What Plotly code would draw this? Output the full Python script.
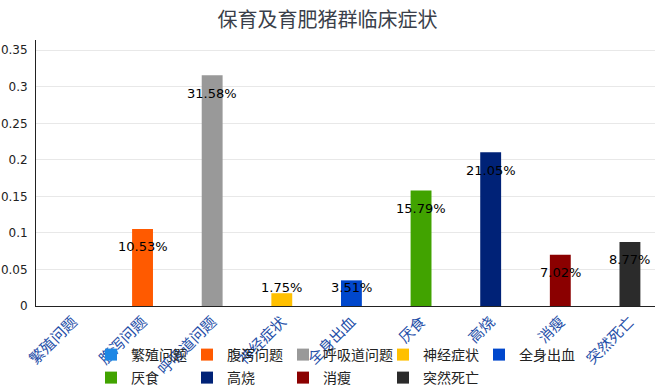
import plotly.graph_objects as go

categories = ["繁殖问题", "腹泻问题", "呼吸道问题", "神经症状", "全身出血", "厌食", "高烧", "消瘦", "突然死亡"]
values = [0, 0.1053, 0.3158, 0.0175, 0.0351, 0.1579, 0.2105, 0.0702, 0.0877]
labels = ["", "10.53%", "31.58%", "1.75%", "3.51%", "15.79%", "21.05%", "7.02%", "8.77%"]
colors = ["#1e88e5", "#ff5a00", "#999999", "#ffc000", "#0047cc", "#41a300", "#002277", "#8b0000", "#2b2b2b"]
y_ticks = [0, 0.05, 0.1, 0.15, 0.2, 0.25, 0.3, 0.35]
y_tick_text = ["0", "0.05", "0.1", "0.15", "0.2", "0.25", "0.3", "0.35"]

fig = go.Figure()
for i, (cat, val, col) in enumerate(zip(categories, values, colors)):
    fig.add_trace(go.Bar(x=[cat], y=[val], name=cat, marker_color=col, width=0.3,
                         marker_line_width=0, legend="legend" if i == 0 else f"legend{i + 1}"))

for cat, val, lab in zip(categories, values, labels):
    if not lab:
        continue
    fig.add_annotation(x=cat, y=max(val - 0.0245, 0.026), text=lab, showarrow=False,
                       font=dict(size=13, color="#000000", family="DejaVu Sans"),
                       yanchor="middle", xanchor="center")

# one legend box per entry: 5 columns per row, 96px apart
legends = {}
for i in range(len(categories)):
    row, col = divmod(i, 5)
    x_px = 91 + col * 96 + (4 if col >= 3 else 0)
    y_px = 355 + row * 23
    key = "legend" if i == 0 else f"legend{i + 1}"
    legends[key] = dict(orientation="h", xref="container", yref="container",
                        x=x_px / 655, y=1 - y_px / 387, xanchor="left", yanchor="middle",
                        font=dict(size=14, color="#222222"), itemclick=False,
                        bgcolor="rgba(0,0,0,0)", tracegroupgap=0)

fig.update_layout(
    width=655, height=387,
    margin=dict(l=36, r=0, t=40, b=81, autoexpand=False),
    paper_bgcolor="white", plot_bgcolor="white",
    barmode="overlay",
    title=dict(text="保育及育肥猪群临床症状", x=0.5, xanchor="center", yref="container",
               y=1 - 20 / 387, yanchor="middle",
               font=dict(size=20, color="#3a3f4a", family="Noto Sans CJK SC")),
    font=dict(family="Noto Sans CJK SC"),
    showlegend=True,
    xaxis=dict(type="category", range=[-0.53, 8.36], tickangle=-45, automargin=False,
               tickfont=dict(size=15, color="#1f4fa8"), showline=True, linecolor="#222222",
               linewidth=1, showgrid=False, ticks=""),
    yaxis=dict(range=[0, 0.364], tickvals=y_ticks, ticktext=y_tick_text,
               tickfont=dict(size=12, color="#222222", family="DejaVu Sans"),
               ticklabelstandoff=5,
               showline=True, linecolor="#222222", linewidth=1, automargin=False,
               gridcolor="#e8e8e8", zeroline=False, ticks=""),
    **legends,
)

fig.write_html("out.html", config={"displayModeBar": False},
               post_script="document.body.style.margin='0';")
